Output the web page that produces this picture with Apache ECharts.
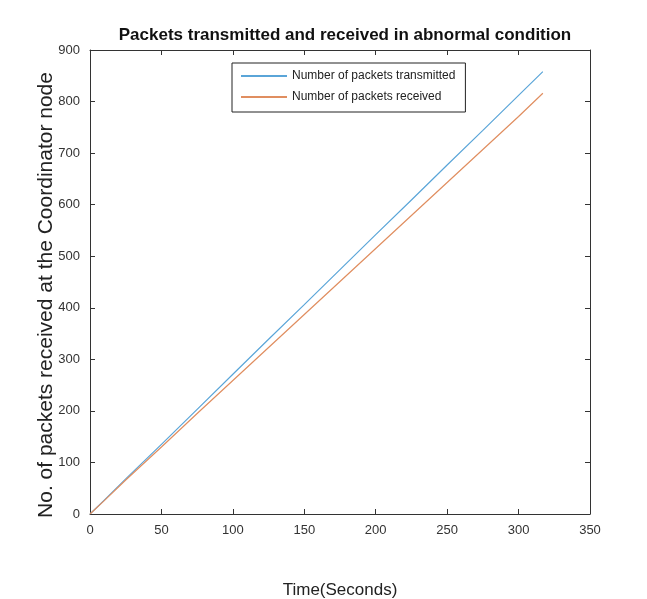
<!DOCTYPE html>
<html>
<head>
<meta charset="utf-8">
<script src="https://cdn.jsdelivr.net/npm/echarts@6/dist/echarts.min.js"></script>
<style>
  html, body { margin: 0; padding: 0; background: #fff; }
  #chart { width: 647px; height: 599px; }
</style>
</head>
<body>
<div id="chart"></div>
<script>
// values
var timeSec = [0, 10, 25, 50, 75, 100, 125, 150, 175, 200, 225, 250, 275, 300, 317];
var transmitted = [0, 27, 68, 135, 203, 271, 339, 406, 474, 542, 609, 677, 744, 812, 858];
var received = [0, 26, 66, 130, 195, 259, 323, 387, 451, 515, 579, 643, 707, 771, 816];
var xTicks = [0, 50, 100, 150, 200, 250, 300, 350];
var yTicks = [0, 100, 200, 300, 400, 500, 600, 700, 800, 900];

function pairs(xs, ys) {
    return xs.map(function (x, i) { return [x, ys[i]]; });
}

var font = '"Liberation Sans", Arial, sans-serif';

// box axes: ticks inside, line not snapped to zero
function boxAxis(extra) {
    var ax = {
        type: 'value',
        axisLine: { show: true, onZero: false, lineStyle: { color: '#333', width: 1 } },
        axisTick: { show: true, inside: true, length: 5, lineStyle: { color: '#333' } },
        axisLabel: { show: false },
        splitLine: { show: false }
    };
    for (var k in extra) ax[k] = extra[k];
    return ax;
}

var chart = echarts.init(document.getElementById('chart'));
chart.setOption({
    backgroundColor: '#fff',
    animation: false,
    title: {
        text: 'Packets transmitted and received in abnormal condition',
        left: 340,
        textAlign: 'center',
        top: 22,
        textStyle: { fontFamily: font, fontSize: 17, fontWeight: 'bold', color: '#111' }
    },
    legend: {
        orient: 'vertical',
        left: 232,
        top: 63,
        width: 231,
        padding: [7, 10, 9, 8],
        itemGap: 9,
        itemWidth: 46,
        itemHeight: 2,
        borderColor: '#222',
        borderWidth: 1,
        textStyle: { fontFamily: font, fontSize: 12, color: '#222' },
        data: ['Number of packets transmitted', 'Number of packets received']
    },
    grid: { left: 90, right: 57, top: 50, bottom: 85, outerBoundsMode: 'none' },
    xAxis: [
        boxAxis({
            min: 0, max: 350, interval: 50,
            name: 'Time(Seconds)',
            nameLocation: 'middle',
            nameGap: 68,
            nameTextStyle: { fontFamily: font, fontSize: 17, color: '#222' },
            axisLabel: { fontFamily: font, fontSize: 13, color: '#333', margin: 10 }
        }),
        boxAxis({ position: 'top', min: 0, max: 350, interval: 50 })
    ],
    yAxis: [
        boxAxis({
            min: 0, max: 900, interval: 100,
            name: 'No. of packets received at the Coordinator node',
            nameLocation: 'middle',
            nameGap: 33,
            nameMoveOverlap: false,
            nameTextStyle: { fontFamily: font, fontSize: 21, color: '#222', padding: [0, 26, 0, 0] },
            axisLabel: { fontFamily: font, fontSize: 13, color: '#333', margin: 10 }
        }),
        boxAxis({ position: 'right', min: 0, max: 900, interval: 100 })
    ],
    series: [{
        name: 'Number of packets transmitted',
        type: 'line',
        symbol: 'none',
        color: '#5aa5d8',
        lineStyle: { width: 1.2, color: '#5aa5d8' },
        data: pairs(timeSec, transmitted)
    }, {
        name: 'Number of packets received',
        type: 'line',
        symbol: 'none',
        color: '#e08e60',
        lineStyle: { width: 1.2, color: '#e08e60' },
        data: pairs(timeSec, received)
    }]
});
</script>
</body>
</html>
